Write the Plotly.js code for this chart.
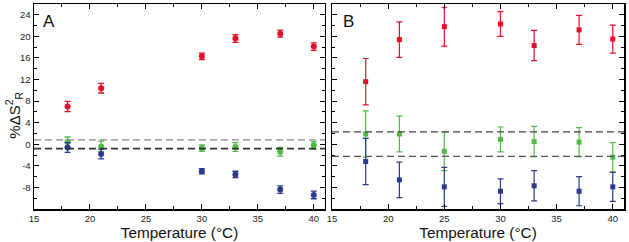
<!DOCTYPE html>
<html>
<head>
<meta charset="utf-8">
<script src="https://cdn.plot.ly/plotly-3.0.1.min.js"></script>
<style>html,body{margin:0;padding:0;background:#fff}#chart{width:629px;height:242px}</style>
</head>
<body>
<div id="chart"></div>
<script>
// Panel A data
const tempA = [18, 21, 30, 33, 37, 40];
const redA = [7.0, 10.4, 16.3, 19.6, 20.5, 18.1];
const redAerr = [0.95, 0.9, 0.6, 0.7, 0.65, 0.7];
const greenA = [0.4, -0.4, -0.7, -0.5, -1.4, -0.2];
const greenAerr = [0.95, 1.0, 0.6, 0.8, 0.8, 0.7];
const blueA = [-0.6, -1.8, -5.0, -5.6, -8.4, -9.4];
const blueAerr = [0.9, 0.9, 0.5, 0.6, 0.7, 0.7];
const bandA = [0.8, -0.8];

// Panel B data
const tempB = [18, 21, 25, 30, 33, 37, 40];
const redB = [11.6, 19.4, 21.8, 22.3, 18.3, 21.2, 19.5];
const redBerr = [4.3, 3.3, 3.6, 2.3, 2.8, 2.7, 2.6];
const greenB = [1.9, 1.9, -1.3, 0.9, 0.5, 0.4, -2.4];
const greenBerr = [4.3, 3.3, 3.6, 2.3, 2.8, 2.7, 2.7];
const blueB = [-3.2, -6.6, -7.9, -8.7, -7.7, -8.7, -7.9];
const blueBerr = [4.3, 3.3, 3.6, 2.3, 2.8, 2.7, 2.7];
const bandB = [2.3, -2.25];

// Axis ticks
const xTicks = [15, 20, 25, 30, 35, 40];
const yTicks = [-8, -4, 0, 4, 8, 12, 16, 20, 24];
const yTickText = ['-8', '-4', '0', '4', '8', '12', '16', '20', '24'];

const RED = '#e0102a', GREEN = '#4fba45', BLUE = '#2b3a8f';

function series(x, y, e, color, symbol, xa, ya, msize, ew) {
  return {
    x: x, y: y, xaxis: xa, yaxis: ya, type: 'scatter', mode: 'markers',
    marker: {color: color, size: msize, symbol: symbol},
    error_y: {type: 'data', array: e, visible: true, color: color, thickness: ew, width: 3},
    showlegend: false, hoverinfo: 'none', cliponaxis: true
  };
}

const data = [
  series(tempA, redA, redAerr, RED, 'circle', 'x', 'y', 6, 1.3),
  series(tempA, greenA, greenAerr, GREEN, 'circle', 'x', 'y', 6, 1.3),
  series(tempA, blueA, blueAerr, BLUE, 'circle', 'x', 'y', 6, 1.3),
  series(tempB, redB, redBerr, RED, 'square', 'x2', 'y2', 5, 1.2),
  series(tempB, greenB, greenBerr, GREEN, 'square', 'x2', 'y2', 5, 1.2),
  series(tempB, blueB, blueBerr, BLUE, 'square', 'x2', 'y2', 5, 1.2)
];

const tickFont = {family: 'Liberation Sans, Arial, sans-serif', size: 9.5, color: '#222'};
const titleFont = {family: 'Liberation Sans, Arial, sans-serif', size: 15.3, color: '#111'};

function xaxis(domain, anchor) {
  return {
    domain: domain, anchor: anchor, range: [15, 41],
    tickmode: 'array', tickvals: xTicks, ticks: 'inside', ticklen: 5, tickwidth: 1, tickcolor: '#000',
    minor: {dtick: 2.5, tick0: 15, ticks: 'inside', ticklen: 3, tickcolor: '#000', tickwidth: 1},
    showline: true, linecolor: '#000', linewidth: 1.5, mirror: 'ticks',
    showgrid: false, zeroline: false, tickfont: tickFont,
    title: {text: 'Temperature (°C)', font: titleFont, standoff: 0},
    automargin: false
  };
}
function yaxis(anchor, labels) {
  return {
    anchor: anchor, range: [-12, 26], domain: [0, 1],
    tickmode: 'array', tickvals: yTicks, ticktext: yTickText, showticklabels: labels,
    ticks: 'inside', ticklen: 5, tickwidth: 1, tickcolor: '#000',
    minor: {dtick: 2, tick0: 0, ticks: 'inside', ticklen: 3, tickcolor: '#000', tickwidth: 1},
    showline: true, linecolor: '#000', linewidth: 1.5, mirror: 'ticks',
    showgrid: false, zeroline: false, tickfont: tickFont, automargin: false
  };
}

function band(vals, xref, yref, colors, widths) {
  return vals.map((v, i) => ({
    type: 'line', xref: xref + ' domain', yref: yref, x0: 0, x1: 1, y0: v, y1: v,
    line: {color: colors[i], width: widths[i], dash: '7px,4px'}, layer: 'above'
  }));
}

const layout = {
  width: 629, height: 242,
  margin: {l: 34, r: 5, t: 4, b: 33},
  paper_bgcolor: '#fff', plot_bgcolor: '#fff',
  xaxis: xaxis([0, 0.4932], 'y'),
  yaxis: yaxis('x', true),
  xaxis2: xaxis([0.5051, 1], 'y2'),
  yaxis2: yaxis('x2', false),
  shapes: [].concat(
    band(bandA, 'x', 'y', ['#888', '#333'], [1.2, 1.6]),
    band(bandB, 'x2', 'y2', ['#444', '#555'], [1.3, 1.2])
  ),
  annotations: [
    {text: 'A', xref: 'x domain', yref: 'y domain', x: 0.053, y: 0.915, showarrow: false,
     xanchor: 'center', yanchor: 'middle', font: {family: 'Liberation Sans, Arial, sans-serif', size: 17, color: '#111'}},
    {text: 'B', xref: 'x2 domain', yref: 'y2 domain', x: 0.057, y: 0.915, showarrow: false,
     xanchor: 'center', yanchor: 'middle', font: {family: 'Liberation Sans, Arial, sans-serif', size: 17, color: '#111'}},
    {text: '%ΔS<sup>2</sup><sub>R</sub>', xref: 'paper', yref: 'paper', x: -0.034, y: 0.46,
     textangle: -90, showarrow: false, xanchor: 'center', yanchor: 'middle',
     font: {family: 'Liberation Sans, Arial, sans-serif', size: 15, color: '#111'}}
  ]
};

Plotly.newPlot('chart', data, layout, {staticPlot: true, displayModeBar: false});
</script>
</body>
</html>
